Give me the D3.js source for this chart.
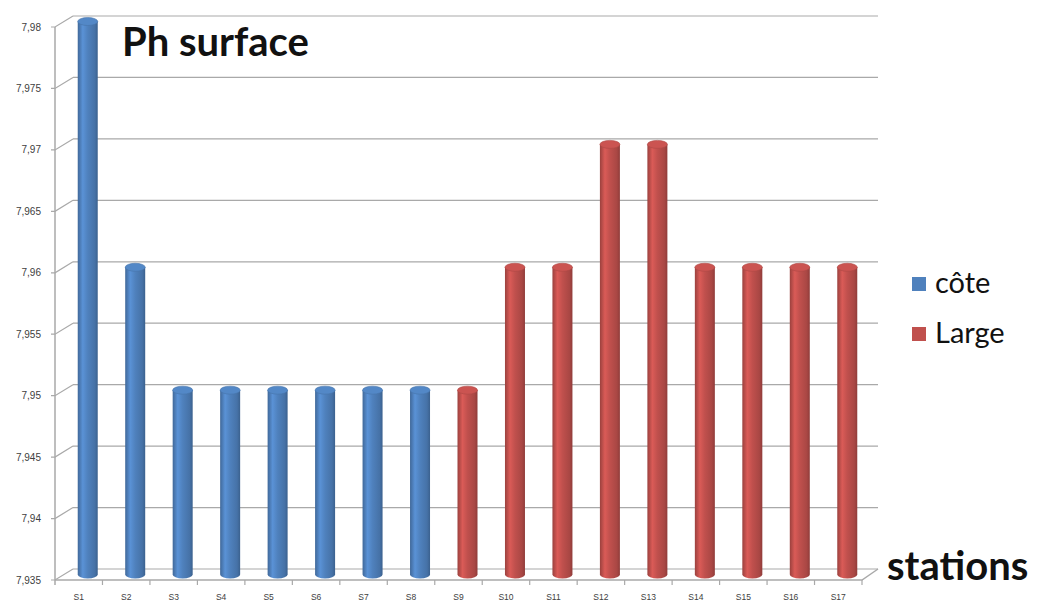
<!DOCTYPE html>
<html><head><meta charset="utf-8">
<script src="https://cdn.jsdelivr.net/npm/d3@7"></script>
<style>html,body{margin:0;padding:0;background:#fff;}svg{display:block;}</style>
</head><body>
<svg id="chart" width="1040" height="608"></svg>
<script>
const stations = ["S1","S2","S3","S4","S5","S6","S7","S8","S9","S10","S11","S12","S13","S14","S15","S16","S17"];
const coteValues = [7.98,7.96,7.95,7.95,7.95,7.95,7.95,7.95,null,null,null,null,null,null,null,null,null];
const largeValues = [null,null,null,null,null,null,null,null,7.95,7.96,7.96,7.97,7.97,7.96,7.96,7.96,7.96];
const yTicks = [7.935,7.94,7.945,7.95,7.955,7.96,7.965,7.97,7.975,7.98];
const yTickLabels = ["7,935","7,94","7,945","7,95","7,955","7,96","7,965","7,97","7,975","7,98"];
const seriesNames = ["côte","Large"];
const seriesColors = ["#4f81bd","#c0504d"];

const svg = d3.select("#chart");
const dx = 18, dy = 11;
const x0 = 55, x1 = 862;
const yBack = d3.scaleLinear().domain([7.935,7.98]).range([569,16]);
const x = d3.scaleBand().domain(stations).range([x0,x1]);
const grid = "#a9a9a9";

// gradients
const defs = svg.append("defs");
function grad(id, c){
  const base = d3.color(c);
  const g = defs.append("linearGradient").attr("id",id).attr("x1","0").attr("x2","1").attr("y1","0").attr("y2","0");
  [[0,base.darker(0.6)],[0.25,base.brighter(0.35)],[0.5,base],[0.85,base.darker(0.35)],[1,base.darker(0.8)]]
    .forEach(([o,col])=>g.append("stop").attr("offset",o).attr("stop-color",col.formatHex()));
}
grad("g0",seriesColors[0]); grad("g1",seriesColors[1]);

// back gridlines
svg.append("g").selectAll("line").data(yTicks).join("line")
  .attr("x1",x0+dx).attr("x2",x1+dx-2)
  .attr("y1",d=>yBack(d)).attr("y2",d=>yBack(d))
  .attr("stroke",grid).attr("stroke-width",1.2);
// diagonals on left wall + tick
svg.append("g").selectAll("path").data(yTicks).join("path")
  .attr("d",d=>`M${x0-4},${yBack(d)+dy} L${x0},${yBack(d)+dy} L${x0+dx},${yBack(d)}`)
  .attr("fill","none").attr("stroke",grid).attr("stroke-width",1.2);
// left axis line
svg.append("line").attr("x1",x0).attr("x2",x0).attr("y1",yBack(7.98)+dy).attr("y2",yBack(7.935)+dy+5)
  .attr("stroke",grid).attr("stroke-width",1.5);
// floor front edge and right edge
svg.append("path").attr("d",`M${x0},${yBack(7.935)+dy} L${x1},${yBack(7.935)+dy} L${x1+dx-2},${yBack(7.935)}`)
  .attr("fill","none").attr("stroke",grid).attr("stroke-width",1.5);
// category ticks
svg.append("g").selectAll("line").data(stations.slice(1).concat(["end"])).join("line")
  .attr("x1",(d,i)=>x0+x.step()*(i+1)).attr("x2",(d,i)=>x0+x.step()*(i+1))
  .attr("y1",yBack(7.935)+dy).attr("y2",yBack(7.935)+dy+5)
  .attr("stroke",grid).attr("stroke-width",1.2);

// y labels
svg.append("g").selectAll("text").data(yTicks).join("text")
  .attr("x",41).attr("y",(d)=>yBack(d)+dy+3.5)
  .attr("text-anchor","end").attr("font-family","Liberation Sans, Arial, sans-serif")
  .attr("font-size",10).attr("fill","#404040")
  .text((d,i)=>yTickLabels[i]);
// x labels
svg.append("g").selectAll("text").data(stations).join("text")
  .attr("x",d=>x(d)+x.bandwidth()/2).attr("y",600)
  .attr("text-anchor","middle").attr("font-family","Liberation Sans, Arial, sans-serif")
  .attr("font-size",8.5).attr("fill","#404040")
  .text(d=>d);

// cylinders
const bw = 20, ry = 4;
function drawSeries(vals, si){
  const data = stations.map((s,i)=>({s, v: vals[i]})).filter(d=>d.v!=null);
  const g = svg.append("g");
  data.forEach(d=>{
    const cx = x(d.s)+x.bandwidth()/2+dx/2;
    const yt = yBack(d.v)+dy/2;
    const yb = yBack(7.935)+dy/2;
    const l = cx-bw/2, r = cx+bw/2;
    g.append("path")
      .attr("d",`M${l},${yt} L${l},${yb} A${bw/2},${ry} 0 0 0 ${r},${yb} L${r},${yt} Z`)
      .attr("fill",`url(#g${si})`);
    g.append("ellipse").attr("cx",cx).attr("cy",yt).attr("rx",bw/2).attr("ry",ry)
      .attr("fill",d3.color(seriesColors[si]).brighter(0.15).formatHex())
      .attr("stroke",d3.color(seriesColors[si]).darker(0.3).formatHex()).attr("stroke-width",0.6);
  });
}
drawSeries(coteValues,0);
drawSeries(largeValues,1);

// title
svg.append("text").attr("x",122).attr("y",56).attr("font-family","Lato, 'Open Sans', sans-serif")
  .attr("font-weight","bold").attr("font-size",40).attr("fill","#111").text("Ph surface");
svg.append("text").attr("x",887).attr("y",580).attr("font-family","Lato, 'Open Sans', sans-serif")
  .attr("font-weight","bold").attr("font-size",40).attr("fill","#111").text("stations");

// legend
const lg = svg.append("g").selectAll("g").data(seriesNames).join("g")
  .attr("transform",(d,i)=>`translate(912,${277+i*50})`);
lg.append("rect").attr("width",14).attr("height",14).attr("fill",(d,i)=>seriesColors[i]);
lg.append("text").attr("x",23).attr("y",16).attr("font-family","Lato, 'Open Sans', sans-serif")
  .attr("font-size",29).attr("fill","#111").text(d=>d);
</script>
</body></html>
